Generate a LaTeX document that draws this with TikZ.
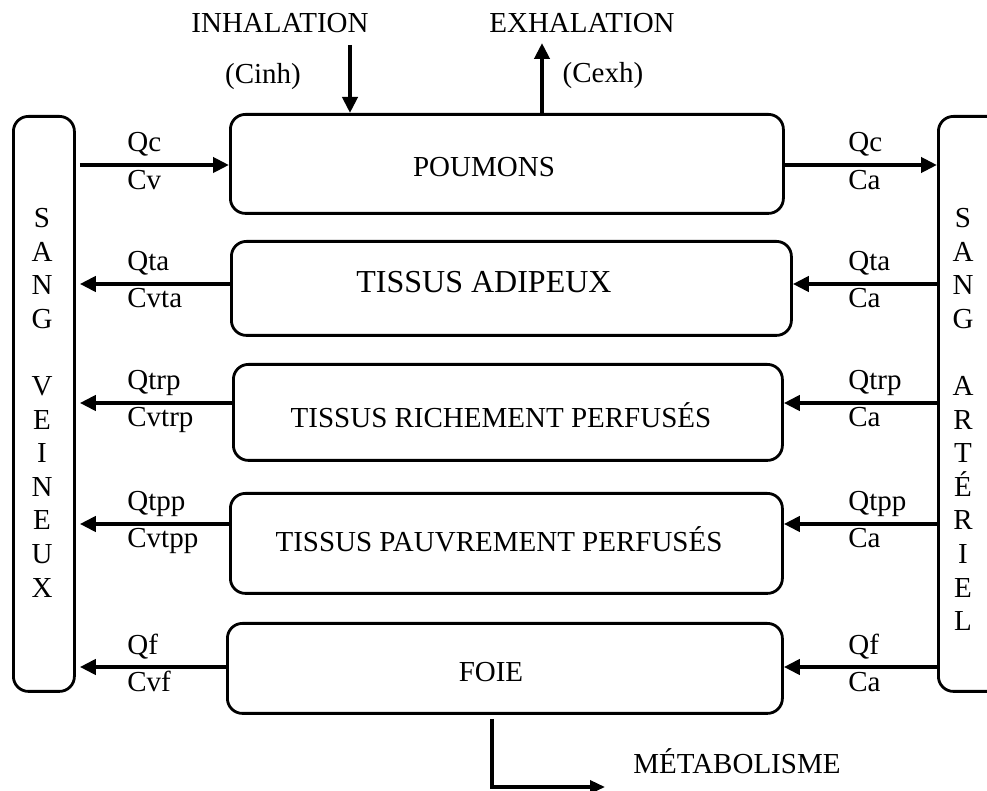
\documentclass[tikz,border=0pt]{standalone}
\usepackage{fontspec}
\setmainfont{Liberation Serif}
\usetikzlibrary{arrows.meta}

\begin{document}
\begin{tikzpicture}[x=0.5pt,y=-0.5pt,
  box/.style={draw, line width=1.4pt, rounded corners=7.5pt, inner sep=0pt, anchor=north west},
  flow/.style={line width=2.3pt, -{Triangle[length=8pt,width=7.5pt]}},
  metab/.style={line width=1.7pt, -{Triangle[length=7.5pt,width=6.5pt]}},
  txt/.style={font=\fontsize{14.5pt}{17pt}\selectfont, inner sep=0pt},
  big/.style={font=\fontsize{16pt}{19pt}\selectfont, inner sep=0pt},
]
\useasboundingbox (0,0) rectangle (987,791);
\clip (0,0) rectangle (987,791);

% blood compartments
\node[box, minimum width=30.5pt, minimum height=287.5pt] (veins) at (12,115) {};
\node[box, minimum width=40pt,   minimum height=287.5pt] (art)   at (937,115) {};

% organ compartments
\node[box, minimum width=276.5pt, minimum height=49.5pt] (lungs) at (229,113) {};
\node[box, minimum width=280pt,   minimum height=47pt]   (adip)  at (230,240) {};
\node[box, minimum width=274.5pt, minimum height=48pt]   (rich)  at (232,363) {};
\node[box, minimum width=276pt,   minimum height=50pt]   (pauv)  at (229,492) {};
\node[box, minimum width=277.5pt, minimum height=45pt]   (foie)  at (226,622) {};

% organ names
\node[txt, anchor=base] (lungs-t) at (484,177) {POUMONS};
\node[big, anchor=base] (adip-t)  at (484,293) {TISSUS ADIPEUX};
\node[txt, anchor=base] (rich-t)  at (501,428) {TISSUS RICHEMENT PERFUSÉS};
\node[txt, anchor=base] (pauv-t)  at (499,552) {TISSUS PAUVREMENT PERFUSÉS};
\node[txt, anchor=base] (foie-t)  at (491,682) {FOIE};

% vertical lettering of the blood compartments
\foreach \i/\c in {0/S,1/A,2/N,3/G,5/V,6/E,7/I,8/N,9/E,10/U,11/X}
  \node[txt, anchor=base] (ven-\i) at ({42},{227.5+33.6*\i}) {\c};
\foreach \i/\c in {0/S,1/A,2/N,3/G,5/A,6/R,7/T,8/É,9/R,10/I,11/E,12/L}
  \node[txt, anchor=base] (art-\i) at ({963},{227.5+33.6*\i}) {\c};

% gas exchange at the lungs
\coordinate (inh) at (350,45);
\coordinate (exh) at (542,43);
\draw[flow] (inh) -- (inh |- lungs.north);
\draw[flow] (exh |- lungs.north) -- (exh);
\node[txt, anchor=base] (inh-t)  at (280,33) {INHALATION};
\node[txt, anchor=base] (exh-t)  at (582,33) {EXHALATION};
\node[txt, anchor=base] (cinh-t) at (263,84) {(Cinh)};
\node[txt, anchor=base] (cexh-t) at (603,83) {(Cexh)};

% blood flows
\draw[flow] ([xshift=2pt]veins.east |- 0,165) -- (lungs.west |- 0,165);
\draw[flow] (lungs.east |- 0,165) -- (art.west |- 0,165);

\foreach \o/\y in {adip/284, rich/403, pauv/524, foie/667}{
  \draw[flow] (art.west |- 0,\y) -- (\o.east |- 0,\y);
  \draw[flow] (\o.west |- 0,\y) -- ([xshift=2pt]veins.east |- 0,\y);
}

% flow labels, venous side
\node[txt, anchor=base west] (l1a) at (127,152) {Qc};
\node[txt, anchor=base west] (l1b) at (127,190) {Cv};
\node[txt, anchor=base west] (l2a) at (127,271) {Qta};
\node[txt, anchor=base west] (l2b) at (127,308) {Cvta};
\node[txt, anchor=base west] (l3a) at (127,390) {Qtrp};
\node[txt, anchor=base west] (l3b) at (127,427) {Cvtrp};
\node[txt, anchor=base west] (l4a) at (127,511) {Qtpp};
\node[txt, anchor=base west] (l4b) at (127,548) {Cvtpp};
\node[txt, anchor=base west] (l5a) at (127,654) {Qf};
\node[txt, anchor=base west] (l5b) at (127,691) {Cvf};

% flow labels, arterial side
\node[txt, anchor=base west] (r1a) at (848,152) {Qc};
\node[txt, anchor=base west] (r1b) at (848,190) {Ca};
\node[txt, anchor=base west] (r2a) at (848,271) {Qta};
\node[txt, anchor=base west] (r2b) at (848,308) {Ca};
\node[txt, anchor=base west] (r3a) at (848,390) {Qtrp};
\node[txt, anchor=base west] (r3b) at (848,427) {Ca};
\node[txt, anchor=base west] (r4a) at (848,511) {Qtpp};
\node[txt, anchor=base west] (r4b) at (848,548) {Ca};
\node[txt, anchor=base west] (r5a) at (848,654) {Qf};
\node[txt, anchor=base west] (r5b) at (848,691) {Ca};

% hepatic metabolism
\coordinate (metx) at (492,0);
\coordinate (met) at (605,787);
\draw[metab] ([yshift=-2pt]foie.south -| metx) |- (met);
\node[txt, anchor=base west] (met-t) at (633,773) {MÉTABOLISME};
\end{tikzpicture}
\end{document}
